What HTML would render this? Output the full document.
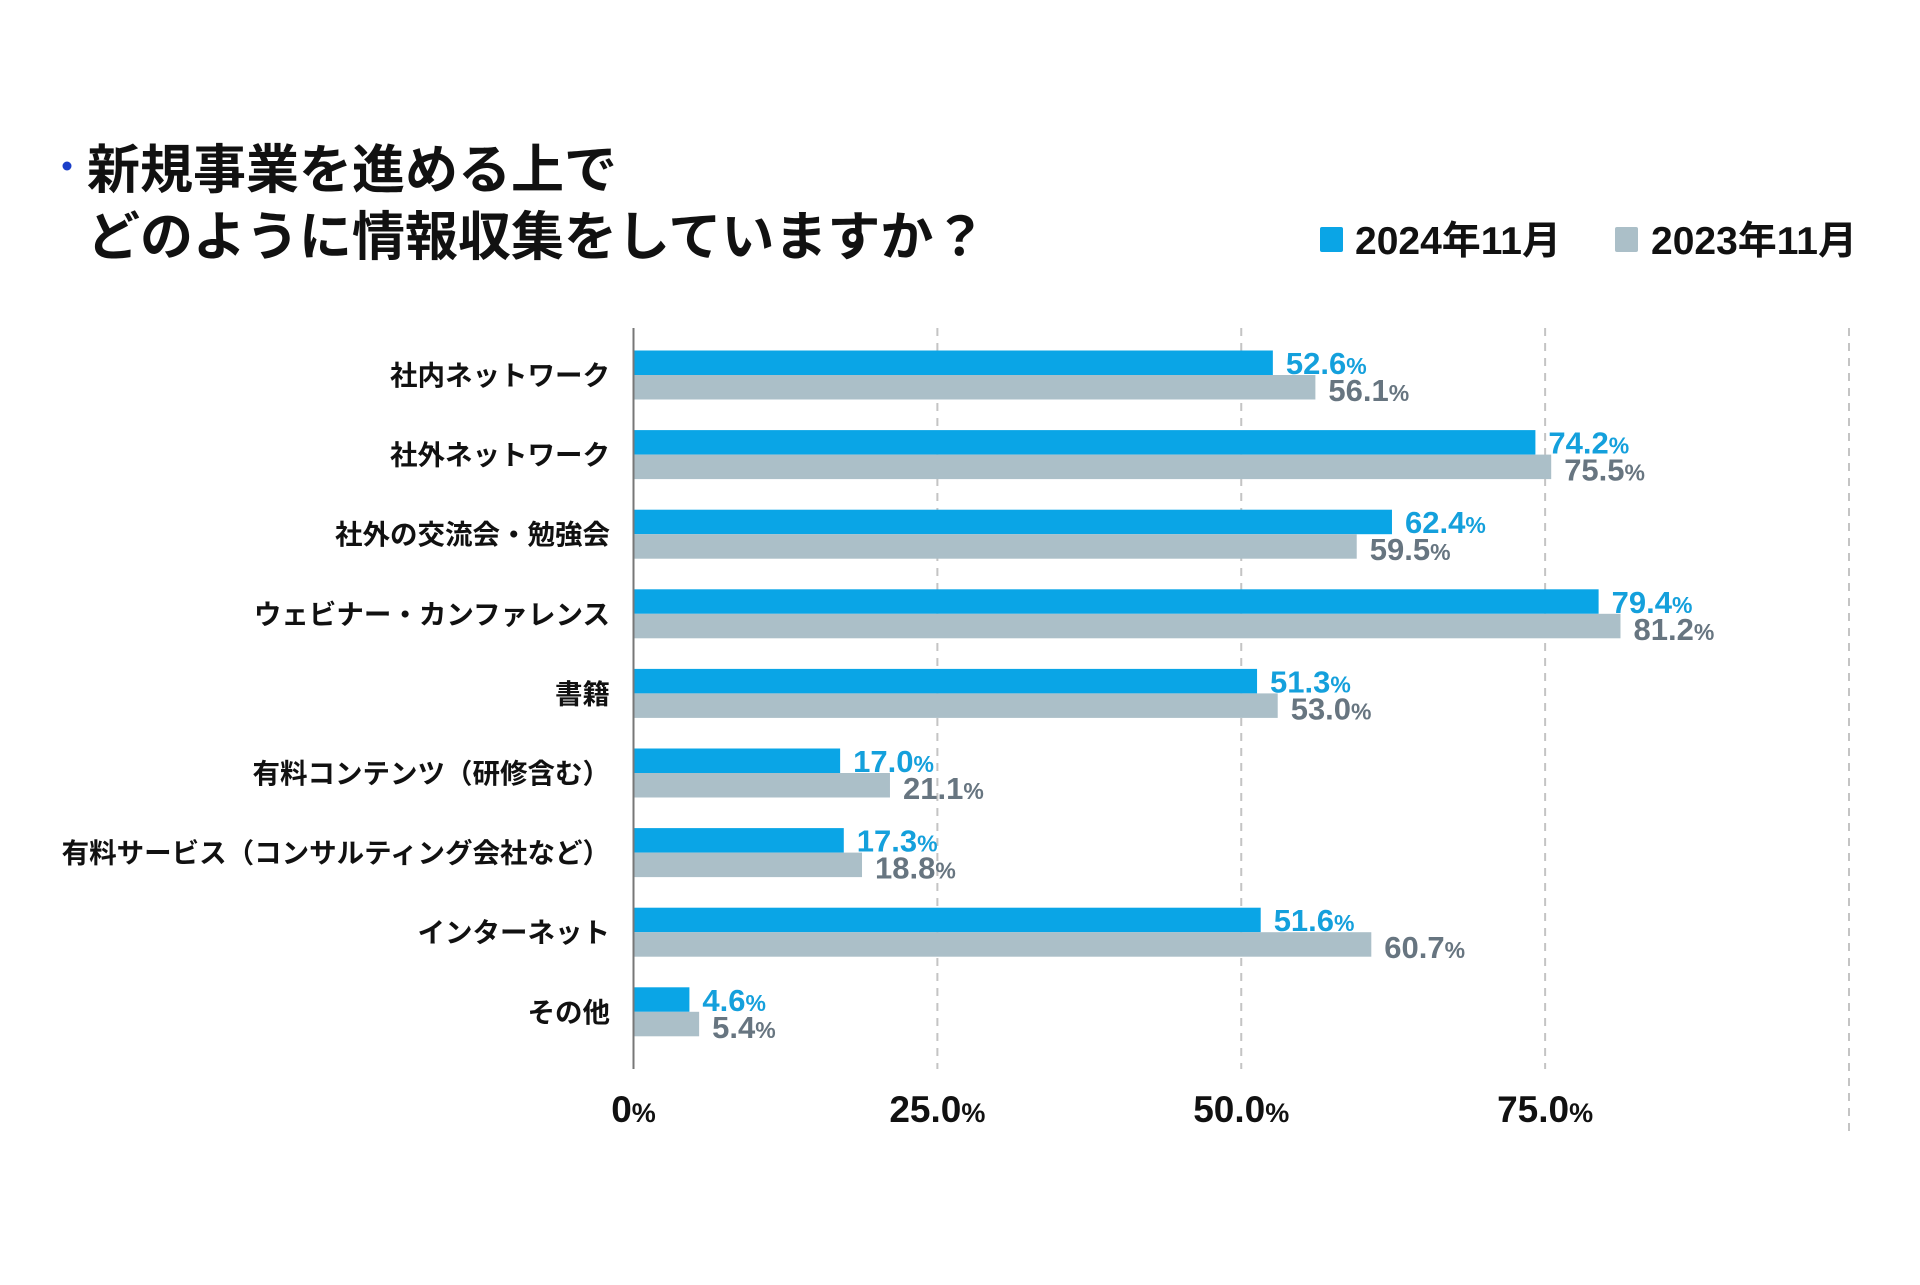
<!DOCTYPE html>
<html><head><meta charset="utf-8"><style>
body{margin:0;background:#fff;}
svg text{font-family:"Liberation Sans","Noto Sans CJK JP",sans-serif;font-weight:bold;}
</style></head><body>
<svg id="chart" width="1920" height="1280" viewBox="0 0 1920 1280" xmlns="http://www.w3.org/2000/svg">
<circle cx="67" cy="166" r="4.5" fill="#1a3ec8"/>
<text x="87" y="188" font-size="53" fill="#111">新規事業を進める上で</text>
<text x="87" y="255" font-size="53" fill="#111">どのように情報収集をしていますか？</text>
<g>
<rect x="1320" y="227" width="23" height="25" rx="2" fill="#0aa5e6"/>
<text x="1355" y="254" font-size="39" fill="#111">2024年11月</text>
<rect x="1615" y="227" width="23" height="25" rx="2" fill="#abbfc8"/>
<text x="1651" y="254" font-size="39" fill="#111">2023年11月</text>
</g>
<g id="grid"></g><g id="bars"></g><g id="labels"></g>
<line x1="633.5" y1="328" x2="633.5" y2="1069" stroke="#777" stroke-width="2"/>
</svg>
<script>
const categories=["社内ネットワーク","社外ネットワーク","社外の交流会・勉強会","ウェビナー・カンファレンス","書籍","有料コンテンツ（研修含む）","有料サービス（コンサルティング会社など）","インターネット","その他"];
const series2024=[52.6,74.2,62.4,79.4,51.3,17.0,17.3,51.6,4.6];
const series2023=[56.1,75.5,59.5,81.2,53.0,21.1,18.8,60.7,5.4];
const ticks=[0,25,50,75,100];
const tickLabels=["0","25.0","50.0","75.0",""];
const NS="http://www.w3.org/2000/svg";
const x0=633.5,pxPer=12.155,rowTop=375,rowStep=79.6,barH=24.5;
const xs=v=>x0+v*pxPer;
const ys=i=>rowTop+i*rowStep;
function mk(t,a,p){const e=document.createElementNS(NS,t);for(const k in a)e.setAttribute(k,a[k]);p.appendChild(e);return e;}
const grid=document.getElementById('grid'),bars=document.getElementById('bars'),labels=document.getElementById('labels');
ticks.forEach((t,i)=>{
 if(t>0){const l=mk('line',{x1:xs(t),x2:xs(t),y1:328,y2:t===100?1138:1069,stroke:'#c4c4c4','stroke-width':2,'stroke-dasharray':'8 7'},grid);
 
 }
 if(tickLabels[i]!==""){const tx=mk('text',{x:xs(t),y:1122,'font-size':37,fill:'#111','text-anchor':'middle'},labels);
 
 
 tx.textContent=tickLabels[i];const s=mk('tspan',{'font-size':27},tx);s.textContent='%';}
});
categories.forEach((c,i)=>{
 const y=ys(i);
 const ct=mk('text',{x:610,y:y+10,'font-size':27.5,fill:'#111','text-anchor':'end'},labels);
 
 
 ct.textContent=c;
 const b1=mk('rect',{x:x0,y:y-barH,width:xs(series2024[i])-x0,height:barH,fill:'#0aa5e6'},bars);
 
 
 const b2=mk('rect',{x:x0,y:y,width:xs(series2023[i])-x0,height:barH,fill:'#abbfc8'},bars);
 
 
 const v1=mk('text',{x:xs(series2024[i])+13,y:y-1,'font-size':31,fill:'#14a0dc'},labels);
 
 
 v1.textContent=series2024[i].toFixed(1);let s=mk('tspan',{'font-size':23},v1);s.textContent='%';
 const v2=mk('text',{x:xs(series2023[i])+13,y:y+26,'font-size':31,fill:'#677580'},labels);
 
 
 v2.textContent=series2023[i].toFixed(1);s=mk('tspan',{'font-size':23},v2);s.textContent='%';
});
</script>
</body></html>
